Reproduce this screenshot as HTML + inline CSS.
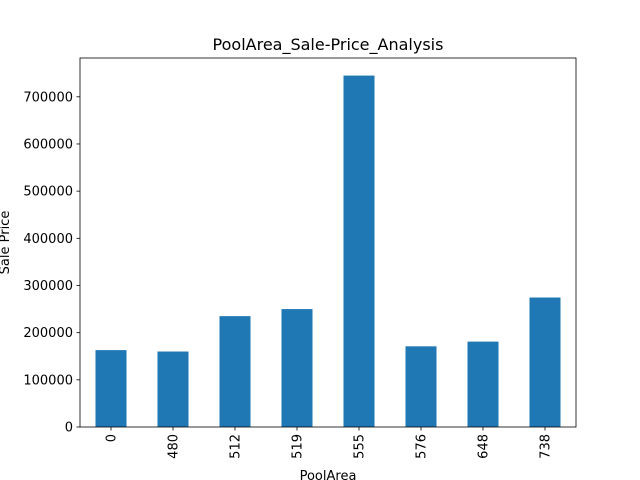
<!DOCTYPE html>
<html><head><meta charset="utf-8"><style>body{margin:0;background:#fff}svg{display:block}text{font-family:"DejaVu Sans","Liberation Sans",sans-serif;fill:#000}</style></head>
<body>
<svg id="chart" width="640" height="480"></svg>
<script>
const categories = ["0","480","512","519","555","576","648","738"];
const salePrices = [163000,160000,235000,250000,745000,171000,181000,274500];
const yTicks = [0,100000,200000,300000,400000,500000,600000,700000];
const NS="http://www.w3.org/2000/svg";
const svg=document.getElementById('chart');
const L=80,R=576,T=58,B=427;
const yMax=Math.max(...salePrices)*1.05;
const y=v=>B-(v/yMax)*(B-T);
const step=(R-L)/categories.length;
const xc=i=>L+(i+0.5)*step;
function mk(tag,attrs,txt){const e=document.createElementNS(NS,tag);for(const k in attrs)e.setAttribute(k,attrs[k]);if(txt!==undefined)e.textContent=txt;svg.appendChild(e);return e;}
salePrices.forEach((v,i)=>{
  const r=mk('rect',{x:xc(i)-step/4,y:y(v),width:step/2,height:B-y(v),fill:'#1f77b4'});
  
  
});
const frame=mk('rect',{x:L,y:T,width:R-L,height:B-T,fill:'none',stroke:'#000','stroke-width':0.8});


yTicks.forEach(t=>{
  mk('line',{x1:L-3.5,x2:L,y1:y(t),y2:y(t),stroke:'#000','stroke-width':0.8});
  const tx=mk('text',{x:L-7,y:y(t)+4.5,'text-anchor':'end','font-size':13},String(t));
  
  
});
categories.forEach((c,i)=>{
  mk('line',{x1:xc(i),x2:xc(i),y1:B,y2:B+3.5,stroke:'#000','stroke-width':0.8});
  const tx=mk('text',{x:0,y:0,'text-anchor':'end','font-size':13,transform:`translate(${xc(i)+4.5},${B+7}) rotate(-90)`},c);
  
  
});
const title=mk('text',{x:(L+R)/2,y:50,'text-anchor':'middle','font-size':16},'PoolArea_Sale-Price_Analysis');


const xl=mk('text',{x:(L+R)/2,y:480,'text-anchor':'middle','font-size':13},'PoolArea');


const yl=mk('text',{x:0,y:0,'text-anchor':'middle','font-size':13,transform:`translate(9,${(T+B)/2}) rotate(-90)`},'Sale Price');


</script>
</body></html>
